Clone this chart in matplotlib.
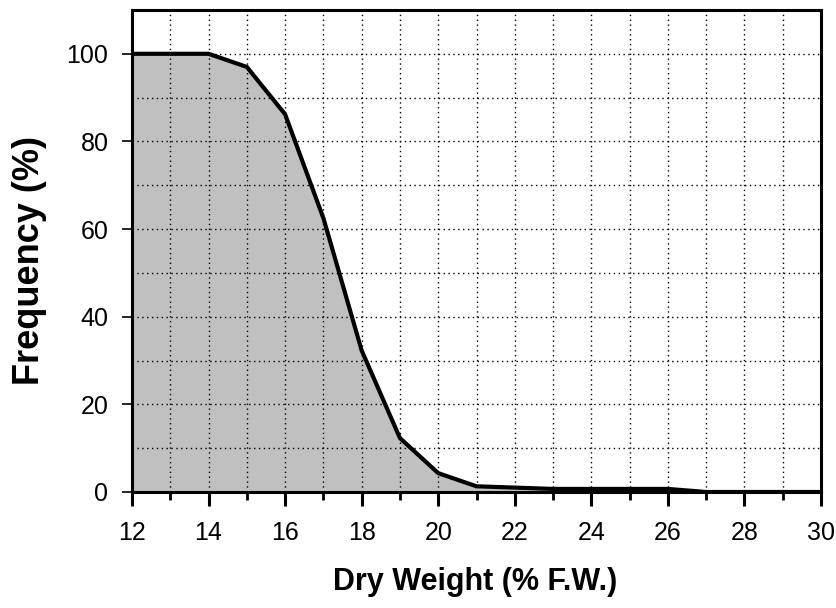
import numpy as np
import matplotlib.pyplot as plt
from matplotlib.ticker import MultipleLocator

plt.rcParams['font.family'] = ['Liberation Sans', 'DejaVu Sans']

# Cumulative frequency (%) by dry weight (% F.W.)
dry_weight = [12, 13, 14, 15, 16, 17, 18, 19, 20, 21, 22, 23, 24, 25, 26, 27, 28, 29, 30]
frequency = [100, 100, 100, 97.0, 86.2, 62.5, 32.3, 12.3, 4.3, 1.3, 1.0, 0.7, 0.7, 0.7, 0.7, 0.0, 0.0, 0.0, 0.0]

fig = plt.figure(figsize=(8.37, 6.08), dpi=100)
ax = fig.add_axes([0.1577, 0.1908, 0.8232, 0.7928])

ax.fill_between(dry_weight, frequency, 0, color='#c0c0c0', lw=0, zorder=1)
ax.plot(dry_weight, frequency, color='black', lw=3, zorder=3)

ax.set_xlim(12, 30)
ax.set_ylim(0, 110)
ax.xaxis.set_major_locator(MultipleLocator(2))
ax.xaxis.set_minor_locator(MultipleLocator(1))
ax.yaxis.set_major_locator(MultipleLocator(20))
ax.yaxis.set_minor_locator(MultipleLocator(10))

# dotted grid on top of the fill, under the curve
ax.set_axisbelow(False)
ax.grid(True, which='both', color='black', linestyle=(0, (1, 2.5)), lw=1.0)

for s in ax.spines.values():
    s.set_linewidth(2.2)
    s.set_zorder(4)

ax.tick_params(axis='x', which='major', direction='out', length=10, width=2.2, labelsize=18, pad=11)
ax.tick_params(axis='x', which='minor', direction='out', length=6, width=2)
ax.tick_params(axis='y', which='major', direction='out', length=7, width=1.2, labelsize=18, pad=10)
ax.tick_params(axis='y', which='minor', length=0)

ax.set_xlabel('Dry Weight (% F.W.)', fontsize=22, fontweight='bold')
ax.set_ylabel('Frequency (%)', fontsize=26, fontweight='bold')
ax.xaxis.set_label_coords(0.498, -0.156)
ax.yaxis.set_label_coords(-0.123, 0.481)

fig.savefig('out.png', dpi=100)
